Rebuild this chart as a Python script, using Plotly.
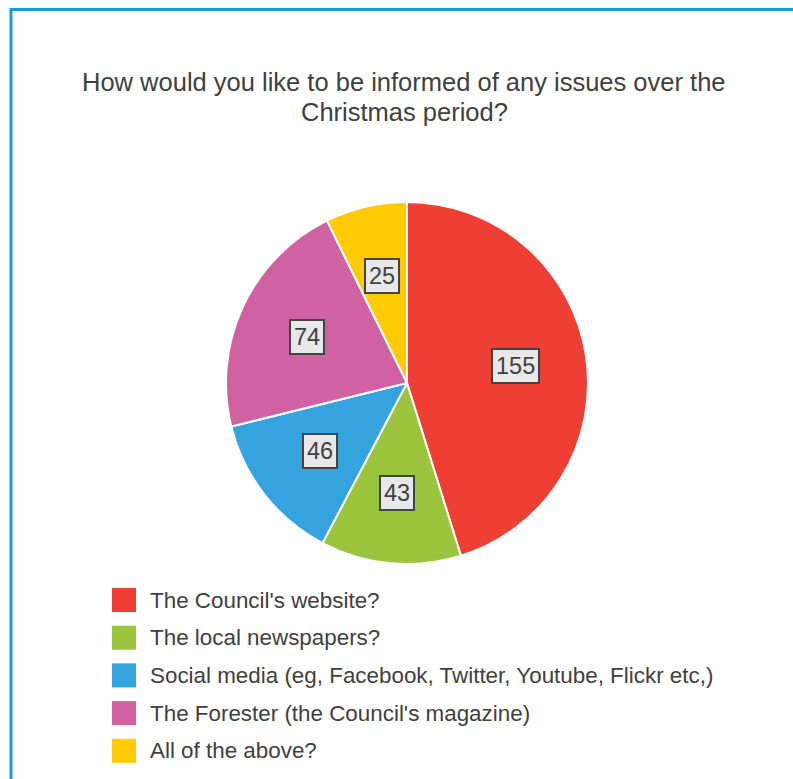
import math
import plotly.graph_objects as go

# Survey responses
categories = [
    "The Council's website?",
    "The local newspapers?",
    "Social media (eg, Facebook, Twitter, Youtube, Flickr etc,)",
    "The Forester (the Council's magazine)",
    "All of the above?",
]
counts = [155, 43, 46, 74, 25]
colors = ["#ef3e33", "#9cc53e", "#34a3de", "#d062a3", "#ffcb05"]

title_lines = [
    "How would you like to be informed of any issues over the",
    "Christmas period?",
]

W, H = 793, 779
FONT = "Arial, Liberation Sans, Helvetica, sans-serif"
TEXT_COLOR = "#404040"

# Pie geometry in pixels
cx, cy, R = 407, 383, 181
label_r = 110


def px(x):
    return x / W


def py(y):
    return 1 - y / H


fig = go.Figure()
fig.add_trace(go.Pie(
    labels=categories,
    values=counts,
    marker=dict(colors=colors, line=dict(color="white", width=2)),
    sort=False,
    direction="clockwise",
    rotation=0,
    textinfo="none",
    hoverinfo="label+value",
    showlegend=False,
    domain=dict(x=[px(cx - R), px(cx + R)], y=[py(cy + R), py(cy - R)]),
))

annotations = []

# Value boxes at the middle angle of each slice
total = sum(counts)
cum = 0
for v in counts:
    mid = (cum + v / 2) / total * 2 * math.pi
    cum += v
    lx = cx + label_r * math.sin(mid)
    ly = cy - label_r * math.cos(mid)
    annotations.append(dict(
        x=px(lx), y=py(ly), xref="paper", yref="paper",
        text=str(v), showarrow=False,
        font=dict(family=FONT, size=23.5, color=TEXT_COLOR),
        bgcolor="#e8e8e8", bordercolor="#444444", borderwidth=2, borderpad=3,
        xanchor="center", yanchor="middle",
    ))

# Title, two centred lines
for line, yc in zip(title_lines, [82, 112]):
    annotations.append(dict(
        x=px(404), y=py(yc), xref="paper", yref="paper",
        text=line, showarrow=False,
        font=dict(family=FONT, size=25.5, color=TEXT_COLOR),
        xanchor="center", yanchor="middle", align="center",
    ))

# Legend: colored squares and labels
shapes = []
row0, row_step = 600, 37.7
for i, (name, col) in enumerate(zip(categories, colors)):
    yc = row0 + i * row_step
    shapes.append(dict(
        type="rect", xref="paper", yref="paper",
        x0=px(112), x1=px(136), y0=py(yc + 12), y1=py(yc - 12),
        fillcolor=col, line=dict(width=0),
    ))
    annotations.append(dict(
        x=px(147.5), y=py(yc), xref="paper", yref="paper",
        text=name, showarrow=False,
        font=dict(family=FONT, size=22.4, color=TEXT_COLOR),
        xanchor="left", yanchor="middle",
    ))

# Frame lines (top and left)
shapes.append(dict(type="line", xref="paper", yref="paper",
                   x0=px(11), x1=1.0, y0=py(9.5), y1=py(9.5),
                   line=dict(color="#1a9cd8", width=3)))
shapes.append(dict(type="line", xref="paper", yref="paper",
                   x0=px(11), x1=px(11), y0=py(8), y1=0,
                   line=dict(color="#1a9cd8", width=3)))

fig.update_layout(
    width=W, height=H,
    margin=dict(l=0, r=0, t=0, b=0),
    paper_bgcolor="white",
    plot_bgcolor="white",
    annotations=annotations,
    shapes=shapes,
    showlegend=False,
)

fig.write_html("out.html")
